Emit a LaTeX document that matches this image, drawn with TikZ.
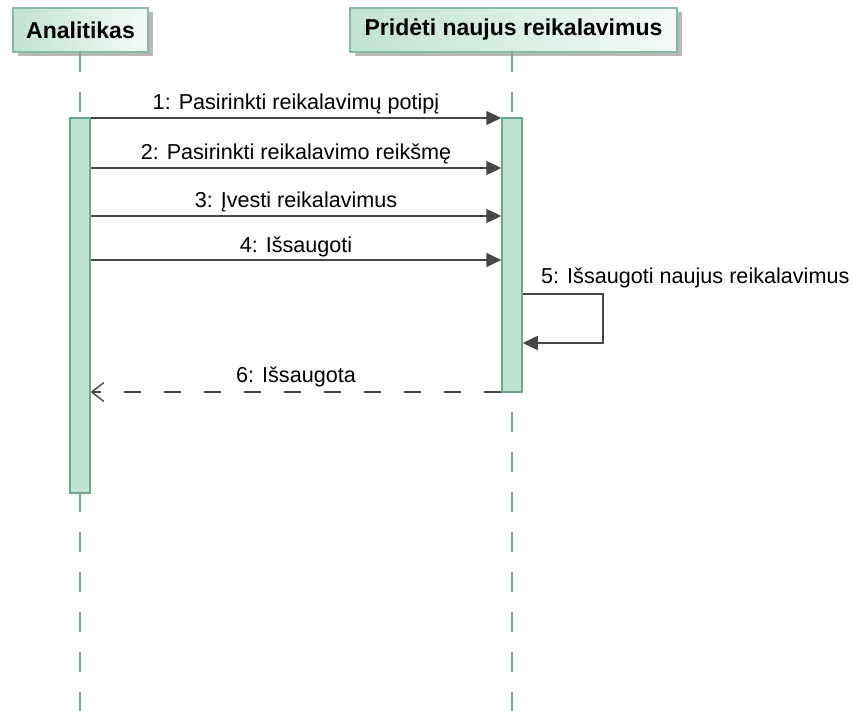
\documentclass[tikz,border=0pt]{standalone}
\usepackage{fontspec}
\setmainfont{Liberation Sans}
\usetikzlibrary{arrows.meta,shadows}

\definecolor{msgline}{HTML}{474747}
\definecolor{lifeln}{HTML}{78A992}
\definecolor{actfill}{HTML}{BFE3D3}
\definecolor{actdraw}{HTML}{6CA588}
\definecolor{hdrleft}{HTML}{C0E3D2}
\definecolor{hdrright}{HTML}{F4FAF7}
\definecolor{hdrdraw}{HTML}{88BAA2}
\definecolor{shadowgray}{HTML}{B8B8B8}

\begin{document}
\begin{tikzpicture}[x=1pt,y=-1pt,
  header/.style={draw=hdrdraw, line width=1.3pt, left color=hdrleft, right color=hdrright,
    minimum height=44pt, inner sep=0pt,
    font=\fontsize{23}{27}\selectfont\bfseries,
    drop shadow={shadow xshift=5pt, shadow yshift=-4pt, fill=shadowgray, opacity=1}},
  lifeline/.style={draw=lifeln, line width=2pt, dash pattern=on 20pt off 20pt},
  act/.style={draw=actdraw, fill=actfill, line width=1.5pt, minimum width=20pt, inner sep=0pt},
  msg/.style={draw=msgline, line width=1.6pt, -{Triangle[length=15pt,width=14pt]}},
  ret/.style={draw=msgline, line width=1.6pt, dash pattern=on 17pt off 23pt,
    -{Straight Barb[length=12pt,width=19pt,line width=1.4pt]}},
  lbl/.style={font=\fontsize{21.6}{26}\selectfont, text=black, inner sep=0pt}
]
\useasboundingbox (0,0) rectangle (853,711);

% participants
\node[header, minimum width=135pt] (hA) at (80.5,30) {Analitikas};
\node[header, minimum width=327pt] (hB) at (513.5,30) {Pridėti naujus reikalavimus};

\coordinate (bottom) at (0,711);

% lifelines
\draw[lifeline] (80,52) coordinate (lA) -- (lA |- bottom);
\draw[lifeline] (512,52) coordinate (lB) -- (lB |- bottom);

% activation bars
\node[act, minimum height=375pt] (actA) at (80,305.5) {};
\node[act, minimum height=274pt] (actB) at (512,255) {};

% message rows
\coordinate (y1) at (0,118);
\coordinate (y2) at (0,168);
\coordinate (y3) at (0,216);
\coordinate (y4) at (0,260);
\coordinate (y5) at (0,294);
\coordinate (y5b) at (0,343);
\coordinate (y6) at (0,392);

\draw[msg] (actA.east |- y1) -- node[lbl, midway, anchor=base, yshift=8pt] {1: Pasirinkti reikalavimų potipį} (actB.west |- y1);
\draw[msg] (actA.east |- y2) -- node[lbl, midway, anchor=base, yshift=8pt] {2: Pasirinkti reikalavimo reikšmę} (actB.west |- y2);
\draw[msg] (actA.east |- y3) -- node[lbl, midway, anchor=base, yshift=8pt] {3: Įvesti reikalavimus} (actB.west |- y3);
\draw[msg] (actA.east |- y4) -- node[lbl, midway, anchor=base, yshift=8pt] {4: Išsaugoti} (actB.west |- y4);

% self call
\draw[msg] (actB.east |- y5) -- ++(80,0) |- (actB.east |- y5b);
\node[lbl, anchor=base west] (l5) at (541,283) {5: Išsaugoti naujus reikalavimus};

% reply
\draw[ret] (actB.west |- y6) -- node[lbl, midway, anchor=base, yshift=10pt] {6: Išsaugota} (actA.east |- y6);
\end{tikzpicture}
\end{document}
